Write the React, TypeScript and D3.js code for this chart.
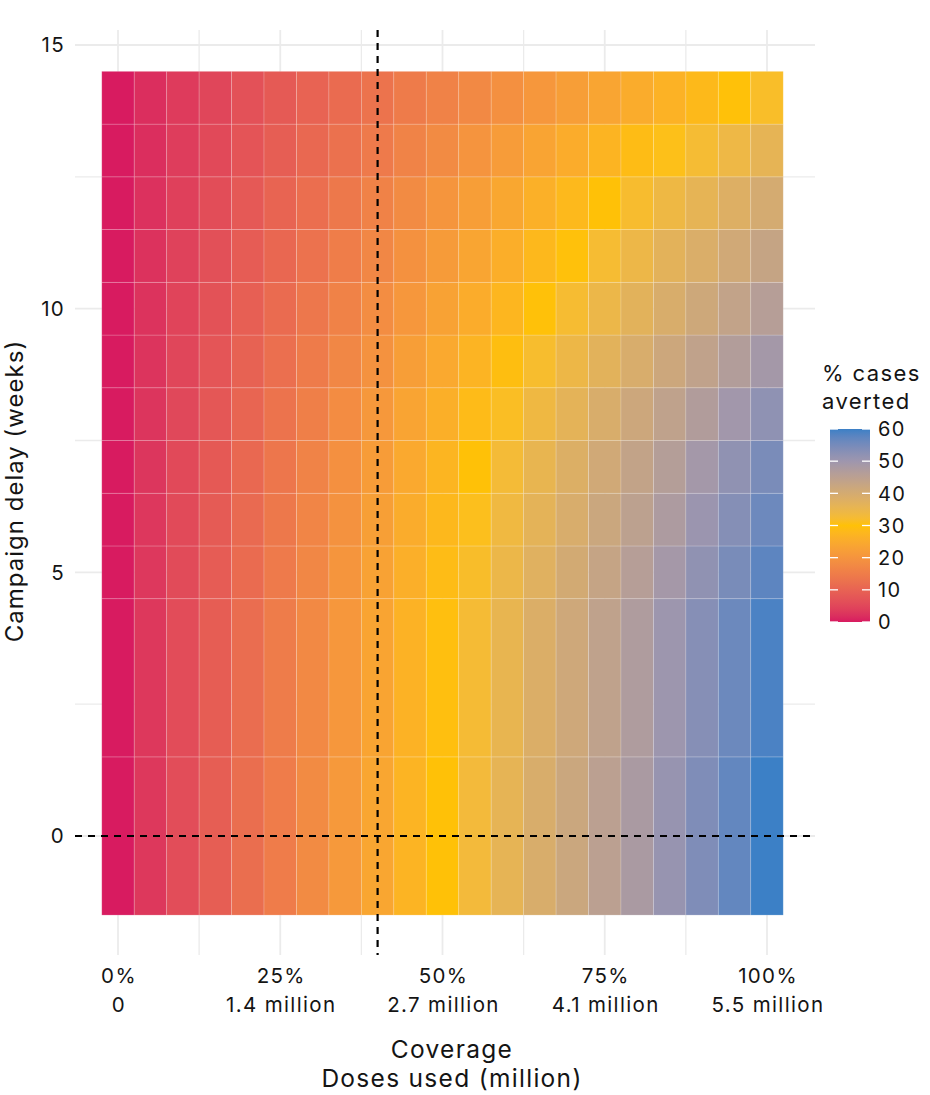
import React from "react";
import * as d3 from "d3";

// Coverage levels (%) on the x axis
const coverage = [0, 5, 10, 15, 20, 25, 30, 35, 40, 45, 50, 55, 60, 65, 70, 75, 80, 85, 90, 95, 100];

// Campaign delay bins (weeks): [start, end]
const delayBins: [number, number][] = [
  [-1.5, 1.5], [1.5, 4.5], [4.5, 5.5], [5.5, 6.5], [6.5, 7.5], [7.5, 8.5],
  [8.5, 9.5], [9.5, 10.5], [10.5, 11.5], [11.5, 12.5], [12.5, 13.5], [13.5, 14.5],
];

// % cases averted, one row per delay bin, one value per coverage level
const averted: number[][] = [
  [0, 3, 6, 9, 12, 15, 18, 21, 24, 27, 30, 33, 36, 39, 42, 45, 48, 51, 54, 57, 60],
  [0, 3, 5.9, 8.9, 11.8, 14.8, 17.7, 20.7, 23.6, 26.6, 29.5, 32.5, 35.4, 38.4, 41.3, 44.3, 47.2, 50.2, 53.1, 56.1, 59],
  [0, 2.9, 5.8, 8.6, 11.5, 14.4, 17.3, 20.1, 23, 25.9, 28.8, 31.6, 34.5, 37.4, 40.3, 43.1, 46, 48.9, 51.8, 54.6, 57.5],
  [0, 2.8, 5.6, 8.4, 11.2, 14, 16.8, 19.6, 22.4, 25.2, 28, 30.8, 33.6, 36.4, 39.2, 42, 44.8, 47.6, 50.4, 53.2, 56],
  [0, 2.7, 5.5, 8.2, 10.9, 13.6, 16.4, 19.1, 21.8, 24.5, 27.3, 30, 32.7, 35.4, 38.2, 40.9, 43.6, 46.3, 49.1, 51.8, 54.5],
  [0, 2.6, 5.2, 7.8, 10.4, 13, 15.6, 18.2, 20.8, 23.4, 26, 28.6, 31.2, 33.8, 36.4, 39, 41.6, 44.2, 46.8, 49.4, 52],
  [0, 2.5, 4.9, 7.4, 9.8, 12.3, 14.7, 17.2, 19.6, 22.1, 24.5, 27, 29.4, 31.9, 34.3, 36.8, 39.2, 41.7, 44.1, 46.6, 49],
  [0, 2.3, 4.6, 6.9, 9.2, 11.5, 13.8, 16.1, 18.4, 20.7, 23, 25.3, 27.6, 29.9, 32.2, 34.5, 36.8, 39.1, 41.4, 43.7, 46],
  [0, 2.2, 4.3, 6.5, 8.6, 10.8, 12.9, 15.1, 17.2, 19.4, 21.5, 23.7, 25.8, 28, 30.1, 32.3, 34.4, 36.6, 38.7, 40.9, 43],
  [0, 2.1, 4.1, 6.1, 8.1, 10.1, 12.1, 14.1, 16.1, 18.1, 20.1, 22.1, 24.1, 26.1, 28.1, 30, 32, 34, 36, 38, 40],
  [0, 1.8, 3.7, 5.5, 7.3, 9.1, 10.9, 12.7, 14.5, 16.3, 18.1, 19.9, 21.7, 23.5, 25.3, 27.1, 28.9, 30.6, 32.4, 34.2, 36],
  [0, 1.7, 3.4, 5, 6.7, 8.3, 9.9, 11.5, 13.1, 14.6, 16.2, 17.7, 19.2, 20.7, 22.2, 23.7, 25.2, 26.7, 28.3, 29.9, 31.5],
];

const xMajor = [0, 25, 50, 75, 100];
const xMinor = [12.5, 37.5, 62.5, 87.5];
const xPctLabels = ["0%", "25%", "50%", "75%", "100%"];
const xDoseLabels = ["0", "1.4 million", "2.7 million", "4.1 million", "5.5 million"];
const yMajor = [0, 5, 10, 15];
const yMinor = [2.5, 7.5, 12.5];
const legendTicks = [0, 10, 20, 30, 40, 50, 60];
const refCoverage = 40;
const refDelay = 0;

// colour ramp for % averted
const colorDomain = [0, 30, 50, 60];
const colorStops = ["#D81B60", "#FFC107", "#9E96AE", "#3C80C6"];

const W = 930;
const H = 1095;
const FONT = "Inter, 'DejaVu Sans', sans-serif";
const INK = "#141414";

export default function App() {
  const x = d3.scaleLinear().domain([0, 100]).range([118, 767]);
  const y = d3.scaleLinear().domain([0, 15]).range([836, 45]);
  const color = d3
    .scaleLinear<string>()
    .domain(colorDomain)
    .range(colorStops)
    .interpolate(d3.interpolateLab)
    .clamp(true);

  const panel = { left: 75, right: 815, top: 30, bottom: 955 };
  const half = 2.5;

  // legend
  const leg = { x: 830, w: 40 };
  const ly = d3.scaleLinear().domain([0, 60]).range([622, 429]);
  const gradStops = d3.range(0, 61, 2);

  return (
    <svg width={W} height={H} style={{ position: "absolute", left: 0, top: 0, background: "#fff" }} fontFamily={FONT}>
      <defs>
        <linearGradient id="legGrad" x1="0" y1="1" x2="0" y2="0">
          {gradStops.map((v) => (
            <stop key={v} offset={`${(v / 60) * 100}%`} stopColor={color(v)} />
          ))}
        </linearGradient>
      </defs>

      {/* grid */}
      <g stroke="#EBEBEB">
        {xMinor.map((v) => (
          <line key={"xm" + v} x1={x(v)} x2={x(v)} y1={panel.top} y2={panel.bottom} strokeWidth={1.3} />
        ))}
        {xMajor.map((v) => (
          <line key={"xM" + v} x1={x(v)} x2={x(v)} y1={panel.top} y2={panel.bottom} strokeWidth={1.8} />
        ))}
        {yMinor.map((v) => (
          <line key={"ym" + v} x1={panel.left} x2={panel.right} y1={y(v)} y2={y(v)} strokeWidth={1.3} />
        ))}
        {yMajor.map((v) => (
          <line key={"yM" + v} x1={panel.left} x2={panel.right} y1={y(v)} y2={y(v)} strokeWidth={1.8} />
        ))}
      </g>

      {/* tiles */}
      <g>
        {delayBins.map((bin, i) =>
          coverage.map((c, j) => (
            <rect
              key={`${i}-${j}`}
              x={x(c - half)}
              y={y(bin[1])}
              width={x(c + half) - x(c - half)}
              height={y(bin[0]) - y(bin[1])}
              fill={color(averted[i][j])}
              stroke="rgba(255,255,255,0.22)"
              strokeWidth={0.8}
            />
          ))
        )}
      </g>

      {/* reference lines */}
      <g stroke="#000" strokeWidth={2.2} strokeDasharray="7,6" fill="none">
        <line x1={x(refCoverage)} x2={x(refCoverage)} y1={panel.top} y2={panel.bottom} />
        <line x1={panel.left} x2={panel.right} y1={y(refDelay)} y2={y(refDelay)} />
      </g>

      {/* y axis labels */}
      <g fontSize={20.5} letterSpacing={1.3} fill={INK} textAnchor="end">
        {yMajor.map((v) => (
          <text key={v} x={65} y={y(v)} dy="0.36em">
            {v}
          </text>
        ))}
      </g>
      <text
        transform={`translate(23,491) rotate(-90)`}
        textAnchor="middle"
        fontSize={24}
        letterSpacing={1}
        fill={INK}
      >
        Campaign delay (weeks)
      </text>

      {/* x axis labels */}
      <g fontSize={20.5} letterSpacing={1.35} fill={INK} textAnchor="middle">
        {xMajor.map((v, i) => (
          <g key={v}>
            <text x={x(v) + 1} y={983}>
              {xPctLabels[i]}
            </text>
            <text x={x(v) + 1} y={1012}>
              {xDoseLabels[i]}
            </text>
          </g>
        ))}
      </g>
      <g fontSize={24.5} letterSpacing={1.3} fill={INK} textAnchor="middle">
        <text x={452} y={1058}>Coverage</text>
        <text x={452} y={1087}>Doses used (million)</text>
      </g>

      {/* legend */}
      <g fontSize={22} letterSpacing={1.4} fill={INK}>
        <text x={822} y={381}>% cases</text>
        <text x={822} y={409}>averted</text>
      </g>
      <rect x={leg.x} y={ly(60)} width={leg.w} height={ly(0) - ly(60)} fill="url(#legGrad)" />
      <g stroke="#fff" strokeWidth={1.3}>
        {legendTicks.map((v) => (
          <g key={v}>
            <line x1={leg.x} x2={leg.x + 8} y1={ly(v)} y2={ly(v)} />
            <line x1={leg.x + leg.w - 8} x2={leg.x + leg.w} y1={ly(v)} y2={ly(v)} />
          </g>
        ))}
      </g>
      <g fontSize={20} letterSpacing={1.3} fill={INK}>
        {legendTicks.map((v) => (
          <text key={v} x={878} y={ly(v)} dy="0.36em">
            {v}
          </text>
        ))}
      </g>
    </svg>
  );
}
